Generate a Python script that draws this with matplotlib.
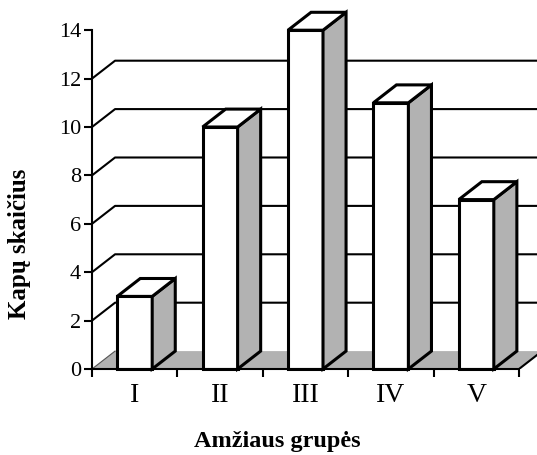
import matplotlib
matplotlib.use('Agg')
import matplotlib.pyplot as plt
from matplotlib.patches import Polygon

# data
groups = ['I', 'II', 'III', 'IV', 'V']
counts = [3, 10, 14, 11, 7]
y_ticks = [0, 2, 4, 6, 8, 10, 12, 14]

plt.rcParams['font.family'] = ['Liberation Serif', 'DejaVu Serif']

DX, DY = 0.27, 0.74   # depth offset of the pseudo-3D look
BAR_W = 0.41
SIDE = '#b2b2b2'
LW = 2.2

fig = plt.figure(figsize=(5.37, 4.55), dpi=100)
ax = fig.add_axes([92 / 537, 86 / 455, 445 / 537, 15 * 24.2 / 455])
ax.set_xlim(0, 445 / 85.4)
ax.set_ylim(0, 15)
ax.patch.set_visible(False)

n = len(groups)

# back wall grid lines with the diagonal going back from the axis
for v in y_ticks[1:-1]:
    ax.plot([0, DX, 6], [v, v + DY, v + DY], color='black', lw=1.5,
            zorder=1, clip_on=False)

# floor
floor = Polygon([(0, 0), (n, 0), (n + DX, DY), (DX, DY)], closed=True,
                facecolor=SIDE, edgecolor='none', zorder=2)
ax.add_patch(floor)
ax.plot([n, n + DX], [0, DY], color='black', lw=1.5, zorder=2)
ax.plot([0, DX], [0, DY], color='#555555', lw=0.8, zorder=2)

# bars
for i, v in enumerate(counts):
    c = i + 0.5
    x0, x1 = c - BAR_W / 2, c + BAR_W / 2
    front = Polygon([(x0, 0), (x1, 0), (x1, v), (x0, v)], closed=True,
                    facecolor='white', edgecolor='black', lw=LW,
                    joinstyle='miter', zorder=3 + i)
    side = Polygon([(x1, 0), (x1 + DX, DY), (x1 + DX, v + DY), (x1, v)],
                   closed=True, facecolor=SIDE, edgecolor='black', lw=LW,
                   joinstyle='miter', zorder=3 + i)
    top = Polygon([(x0, v), (x1, v), (x1 + DX, v + DY), (x0 + DX, v + DY)],
                  closed=True, facecolor='white', edgecolor='black', lw=LW,
                  joinstyle='miter', zorder=3 + i)
    for p in (front, side, top):
        p.set_clip_on(False)
        ax.add_patch(p)

# axes
for s in ('top', 'right'):
    ax.spines[s].set_visible(False)
ax.spines['left'].set_bounds(0, 14)
ax.spines['bottom'].set_bounds(0, n)
ax.spines['left'].set_linewidth(1.5)
ax.spines['bottom'].set_linewidth(1.5)
ax.spines['bottom'].set_zorder(20)

ax.set_yticks(y_ticks)
ax.set_yticklabels([str(t) for t in y_ticks], fontsize=16)
ax.tick_params(axis='y', length=6, width=1.5, pad=2)

ax.set_xticks(range(n + 1))
ax.set_xticklabels([])
ax.set_xticks([i + 0.5 for i in range(n)], minor=True)
ax.set_xticklabels(groups, minor=True, fontsize=20)
ax.tick_params(axis='x', which='major', length=6, width=1.5, direction='out')
ax.tick_params(axis='x', which='minor', length=0, pad=10)

fig.text(20 / 537, 1 - 244 / 455, 'Kapų skaičius', rotation=90,
         ha='center', va='center', fontsize=18, fontweight='bold')
fig.text(277 / 537, 1 - 442 / 455, 'Amžiaus grupės',
         ha='center', va='center', fontsize=17.5, fontweight='bold')

fig.savefig('out.png', dpi=100)
